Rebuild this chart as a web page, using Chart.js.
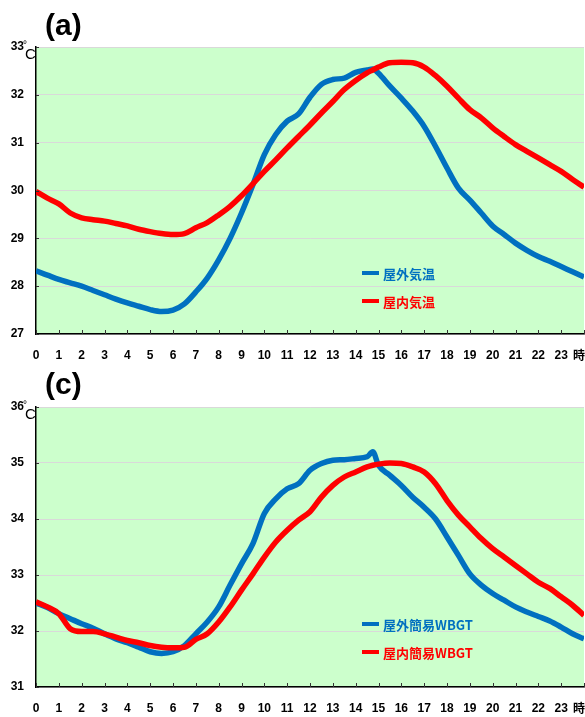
<!DOCTYPE html>
<html>
<head>
<meta charset="utf-8">
<script src="https://cdn.jsdelivr.net/npm/chart.js@4/dist/chart.umd.min.js"></script>
<style>
  body { margin: 0; background: #fff; }
  #wrap { position: relative; width: 585px; height: 717px; overflow: hidden; }
  canvas { position: absolute; left: 0; }
  #c1 { top: 0; }
  #c2 { top: 360px; }
</style>
</head>
<body>
<div id="wrap">
  <canvas id="c1" width="585" height="365"></canvas>
  <canvas id="c2" width="585" height="357"></canvas>
</div>
<script>
// 時刻 (時)
const hours = [0, 0.5, 1, 1.5, 2, 2.5, 3, 3.5, 4, 4.5, 5, 5.5, 6, 6.5, 7, 7.5, 8, 8.5, 9, 9.5,
  10, 10.5, 11, 11.5, 12, 12.5, 13, 13.5, 14, 14.5, 14.75, 15, 15.5, 16, 16.5, 17, 17.5, 18, 18.5,
  19, 19.5, 20, 20.5, 21, 21.5, 22, 22.5, 23, 23.5, 24];
const hourTicks = [0, 1, 2, 3, 4, 5, 6, 7, 8, 9, 10, 11, 12, 13, 14, 15, 16, 17, 18, 19, 20, 21, 22, 23];

// (a) 気温
const outdoorTemp = [28.32, 28.23, 28.14, 28.07, 28.0, 27.91, 27.82, 27.73, 27.65, 27.58, 27.51, 27.47,
  27.5, 27.63, 27.88, 28.17, 28.55, 29.0, 29.53, 30.12, 30.75, 31.17, 31.45, 31.6, 31.95, 32.22,
  32.32, 32.35, 32.47, 32.52, 32.54, 32.45, 32.18, 31.93, 31.66, 31.34, 30.92, 30.47, 30.05, 29.8,
  29.53, 29.26, 29.08, 28.9, 28.75, 28.62, 28.52, 28.41, 28.3, 28.19];
const indoorTemp = [29.98, 29.84, 29.72, 29.53, 29.43, 29.39, 29.36, 29.31, 29.26, 29.19, 29.14, 29.1,
  29.08, 29.1, 29.22, 29.33, 29.49, 29.67, 29.89, 30.14, 30.4, 30.64, 30.89, 31.13, 31.37, 31.62,
  31.86, 32.11, 32.3, 32.46, 32.52, 32.58, 32.67, 32.68, 32.67, 32.58, 32.4, 32.18, 31.93, 31.69,
  31.52, 31.31, 31.13, 30.96, 30.82, 30.68, 30.54, 30.4, 30.23, 30.07];

// (c) 簡易WBGT
const outdoorWbgt = [32.5, 32.42, 32.31, 32.22, 32.13, 32.05, 31.95, 31.86, 31.79, 31.71, 31.63, 31.6,
  31.63, 31.74, 31.95, 32.16, 32.43, 32.82, 33.2, 33.56, 34.1, 34.36, 34.54, 34.63, 34.87, 34.99,
  35.05, 35.06, 35.08, 35.11, 35.2, 34.96, 34.78, 34.6, 34.39, 34.21, 34.0, 33.68, 33.35, 33.02,
  32.82, 32.67, 32.55, 32.43, 32.34, 32.26, 32.18, 32.07, 31.95, 31.86];
const indoorWbgt = [32.52, 32.43, 32.31, 32.04, 31.99, 31.99, 31.95, 31.89, 31.83, 31.79, 31.74, 31.71,
  31.7, 31.71, 31.85, 31.95, 32.16, 32.43, 32.73, 33.02, 33.32, 33.59, 33.8, 33.98, 34.13, 34.39,
  34.6, 34.75, 34.84, 34.93, 34.96, 34.98, 35.0, 34.99, 34.93, 34.84, 34.63, 34.33, 34.07, 33.86,
  33.65, 33.47, 33.32, 33.17, 33.02, 32.87, 32.76, 32.61, 32.46, 32.28];

const BLUE = '#0070c0';
const RED = '#ff0000';

Chart.defaults.font.family = '"Liberation Sans", Arial, sans-serif';
Chart.defaults.color = '#000';

const toPoints = vals => vals.map((v, i) => ({ x: hours[i], y: v }));

// 背景・目盛り・凡例など
const panelDecor = {
  id: 'panelDecor',
  beforeDraw(chart) {
    const { ctx, chartArea: a } = chart;
    ctx.save();
    ctx.fillStyle = '#ccffcc';
    ctx.fillRect(a.left, a.top, a.right - a.left, a.bottom - a.top);
    ctx.restore();
  },
  afterDraw(chart, args, opts) {
    const { ctx, chartArea: a, scales } = chart;
    ctx.save();
    // 目盛り線
    ctx.strokeStyle = '#333';
    ctx.lineWidth = 1;
    ctx.beginPath();
    for (let h = 0; h <= 24; h++) {
      const px = Math.round(scales.x.getPixelForValue(h)) + 0.5;
      ctx.moveTo(px, a.bottom);
      ctx.lineTo(px, a.bottom - 4);
    }
    scales.y.ticks.forEach(t => {
      const py = Math.round(scales.y.getPixelForValue(t.value)) + 0.5;
      ctx.moveTo(a.left, py);
      ctx.lineTo(a.left + 3, py);
    });
    ctx.stroke();

    // タイトル
    ctx.fillStyle = '#000';
    ctx.textAlign = 'left';
    ctx.textBaseline = 'alphabetic';
    ctx.font = 'bold 30px "Liberation Sans", Arial, sans-serif';
    ctx.fillText(opts.title, 45, opts.titleY);

    // 単位
    ctx.font = '10px "Liberation Sans", Arial, sans-serif';
    ctx.fillText('°', 23, a.top + 1);
    ctx.font = '15px "Liberation Sans", Arial, sans-serif';
    ctx.fillText('C', 25, a.top + 12);

    // 時
    ctx.textBaseline = 'middle';
    ctx.font = 'bold 12px "Noto Sans CJK JP", sans-serif';
    ctx.fillText('時', 573, a.bottom + 21);

    // 凡例
    ctx.font = 'bold 13px "Noto Sans CJK JP", sans-serif';
    opts.legend.forEach(item => {
      ctx.strokeStyle = item.color;
      ctx.lineWidth = 4;
      ctx.beginPath();
      ctx.moveTo(362, item.y);
      ctx.lineTo(379, item.y);
      ctx.stroke();
      ctx.fillStyle = item.color;
      ctx.fillText(item.text, 383, item.y + 1);
    });
    ctx.restore();
  }
};

function makeChart(id, series, yMin, yMax, xHeight, decor) {
  return new Chart(document.getElementById(id), {
    type: 'line',
    data: {
      datasets: series.map(s => ({
        data: toPoints(s.values),
        borderColor: s.color,
        borderWidth: 5.5,
        pointRadius: 0,
        cubicInterpolationMode: 'monotone',
        fill: false
      }))
    },
    options: {
      responsive: false,
      animation: false,
      layout: { padding: { top: 47, right: 1, left: 0, bottom: 0 } },
      plugins: {
        legend: { display: false },
        tooltip: { enabled: false },
        panelDecor: decor
      },
      scales: {
        x: {
          type: 'linear',
          min: 0,
          max: 24,
          afterBuildTicks: scale => { scale.ticks = hourTicks.map(v => ({ value: v })); },
          afterFit: scale => { scale.height = xHeight; },
          ticks: {
            padding: 14,
            autoSkip: false,
            maxRotation: 0,
            font: { size: 12, weight: 'bold' }
          },
          grid: { drawOnChartArea: false, drawTicks: false },
          border: { display: true, color: '#000', width: 1.5 }
        },
        y: {
          min: yMin,
          max: yMax,
          afterFit: scale => { scale.width = 36; },
          ticks: {
            stepSize: 1,
            padding: 12,
            font: { size: 12, weight: 'bold' }
          },
          grid: { color: '#d9d9d9', lineWidth: 1, drawTicks: false },
          border: { display: true, color: '#000', width: 1.5 }
        }
      }
    },
    plugins: [panelDecor]
  });
}

makeChart('c1', [
  { values: indoorTemp, color: RED },
  { values: outdoorTemp, color: BLUE }
], 27, 33, 31, {
  title: '(a)',
  titleY: 35,
  legend: [
    { text: '屋外気温', color: BLUE, y: 273 },
    { text: '屋内気温', color: RED, y: 301 }
  ]
});

makeChart('c2', [
  { values: indoorWbgt, color: RED },
  { values: outdoorWbgt, color: BLUE }
], 31, 36, 30, {
  title: '(c)',
  titleY: 34,
  legend: [
    { text: '屋外簡易WBGT', color: BLUE, y: 264 },
    { text: '屋内簡易WBGT', color: RED, y: 292 }
  ]
});
</script>
</body>
</html>
